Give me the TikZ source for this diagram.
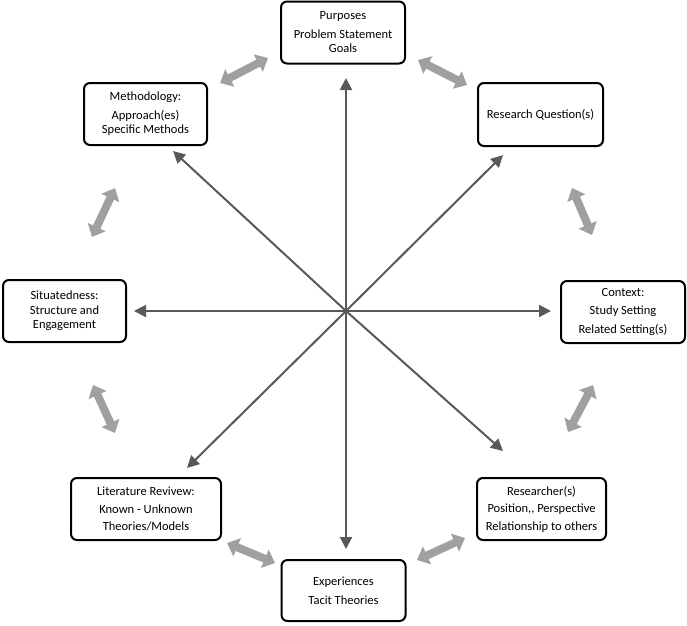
\documentclass[tikz,border=0pt]{standalone}
\usepackage{fontspec}
\setmainfont{Carlito}
\usetikzlibrary{arrows.meta}
\definecolor{darkarr}{HTML}{595959}
\definecolor{greyarr}{HTML}{A0A0A0}
\begin{document}
\begin{tikzpicture}[x=1pt,y=-1pt,
  box/.style={draw=black,line width=2pt,rounded corners=6pt,fill=white,
    minimum width=124pt,minimum height=62pt,align=center,inner sep=2pt,
    font=\fontsize{12.5}{14.5}\selectfont},
  spoke/.style={draw=darkarr,line width=2pt,-{Triangle[length=12pt,width=12pt]}},
  link/.style={draw=greyarr,line width=8pt,{Triangle[length=11pt,width=19pt]}-{Triangle[length=11pt,width=19pt]}}]
\useasboundingbox (0,0) rectangle (687,625);
% boxes
\node[box] (pur) at (343,32.5) {Purposes\\[4pt]Problem Statement\\Goals};
\node[box,minimum width=123pt] (meth) at (145.5,114) {Methodology:\\[4pt]Approach(es)\\Specific Methods};
\node[box,minimum width=125pt,minimum height=63pt] (rq) at (540.5,114.5) {Research Question(s)};
\node[box,minimum width=123pt] (sit) at (64.5,311) {Situatedness:\\Structure and\\Engagement};
\node[box] (ctx) at (623,312) {Context:\\[4pt]Study Setting\\[4pt]Related Setting(s)};
\node[box,minimum width=150pt] (lit) at (146,509) {Literature Revivew:\\[3pt]Known - Unknown\\[3pt]Theories/Models};
\node[box,minimum width=129pt] (res) at (541.5,509) {Researcher(s)\\[3pt]Position,{},\ Perspective\\[3pt]Relationship to others};
\node[box,minimum height=61pt] (exp) at (343.5,590.5) {Experiences\\[5pt]Tacit Theories};
% spokes
\coordinate (c) at (346,311);
\coordinate (tU) at (346,78);
\coordinate (tD) at (346,549);
\coordinate (tL) at (134,311);
\coordinate (tR) at (551,311);
\coordinate (tUL) at (173,151);
\coordinate (tUR) at (503,155);
\coordinate (tLL) at (187,468);
\coordinate (tLR) at (503,451);
\foreach \t in {tU,tD,tL,tR,tUL,tUR,tLL,tLR} \draw[spoke] (c) -- (\t);
% grey links
\coordinate (a1) at (220,83);  \coordinate (b1) at (268,58);
\coordinate (a2) at (418,60);  \coordinate (b2) at (467,85);
\coordinate (a3) at (572,188); \coordinate (b3) at (592,235);
\coordinate (a4) at (593,385); \coordinate (b4) at (568,432);
\coordinate (a5) at (465,538); \coordinate (b5) at (417,560);
\coordinate (a6) at (275,563); \coordinate (b6) at (227,543);
\coordinate (a7) at (115,433); \coordinate (b7) at (93,385);
\coordinate (a8) at (92,237);  \coordinate (b8) at (115,188);
\foreach \i in {1,...,8} \draw[link] (a\i) -- (b\i);
\end{tikzpicture}
\end{document}
